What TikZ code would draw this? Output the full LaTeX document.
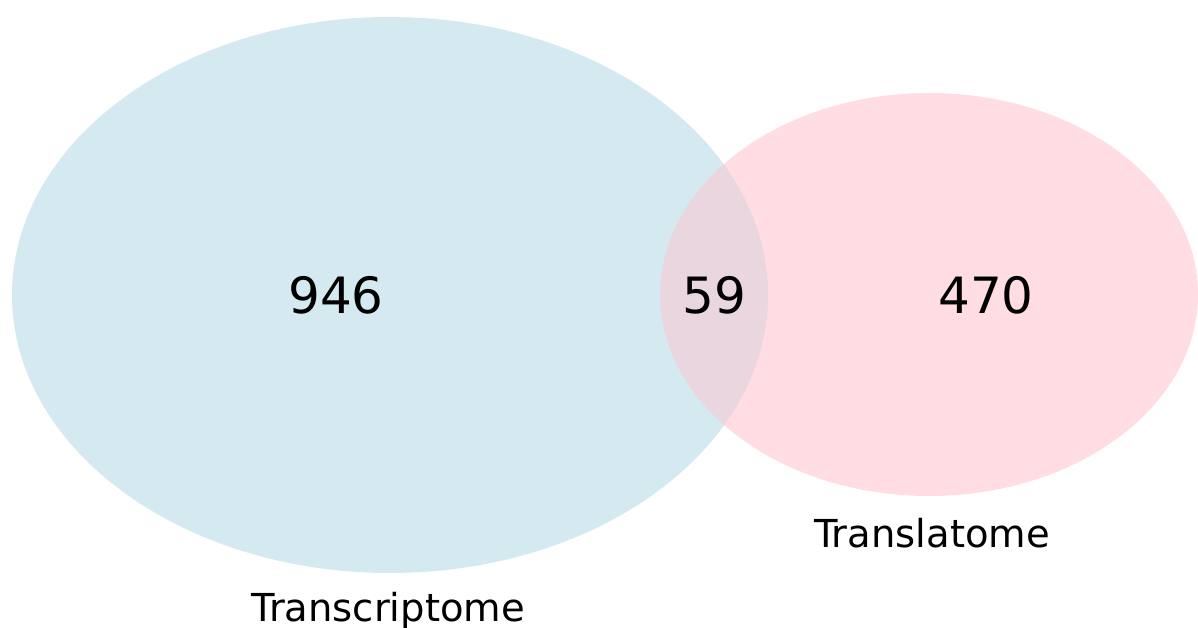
\documentclass[tikz,border=0pt]{standalone}
\usepackage{fontspec}
\setmainfont{DejaVu Sans}
\definecolor{setA}{RGB}{213,234,240}
\definecolor{setB}{RGB}{255,221,227}
\definecolor{setAB}{RGB}{234,214,223}
\begin{document}
\begin{tikzpicture}[x=1pt,y=-1pt,
  count/.style={anchor=base,inner sep=0pt,font=\fontsize{50}{60}\selectfont},
  setlabel/.style={anchor=base,inner sep=0pt,font=\fontsize{38.5}{46}\selectfont}]
\useasboundingbox (0,0) rectangle (1198,628);
% the two sets
\fill[setA] (390,295) ellipse [x radius=378, y radius=278];
\fill[setB] (929,294.5) ellipse [x radius=269, y radius=201.5];
% their overlap
\begin{scope}
  \clip (390,295) ellipse [x radius=378, y radius=278];
  \fill[setAB] (929,294.5) ellipse [x radius=269, y radius=201.5];
\end{scope}
% region counts
\node[count] (onlyA) at (336,313) {946};
\node[count] (both) at (714,313) {59};
\node[count] (onlyB) at (986,313) {470};
% set names
\node[setlabel] (nameA) at (388,621) {Transcriptome};
\node[setlabel] (nameB) at (932,547) {Translatome};
\end{tikzpicture}
\end{document}
